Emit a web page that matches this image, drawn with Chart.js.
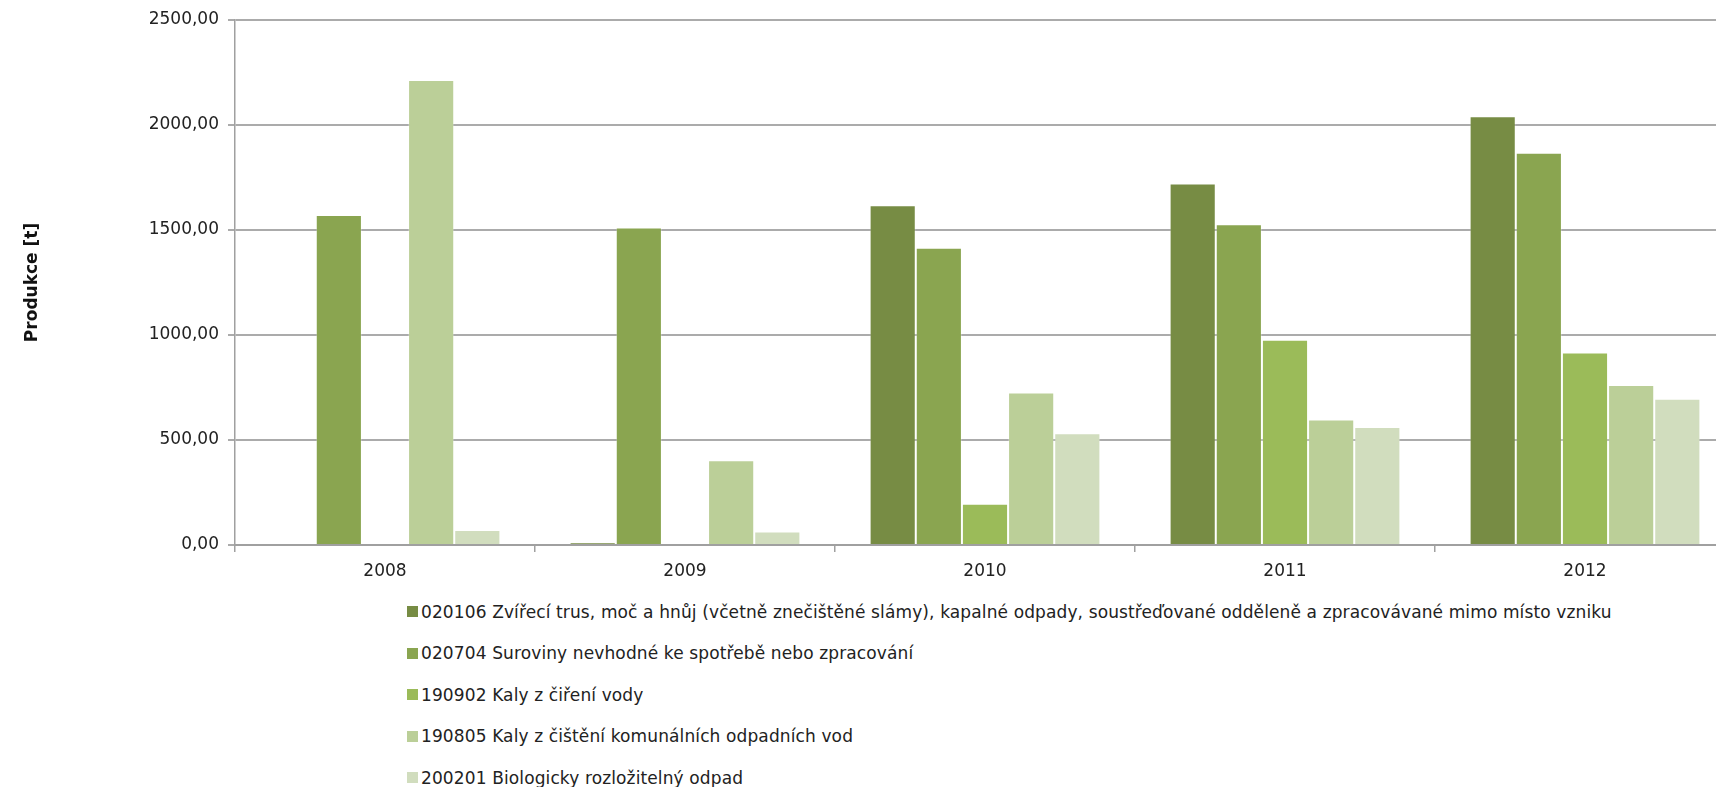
<!DOCTYPE html>
<html><head><meta charset="UTF-8">
<title>Produkce odpadů</title>
<script src="https://cdn.jsdelivr.net/npm/chart.js"></script>
<style>
* { margin: 0; padding: 0; box-sizing: border-box; }
body {
  width: 1716px;
  height: 787px;
  overflow: hidden;
  background: #ffffff;
  position: relative;
  font-family: 'DejaVu Sans', sans-serif;
}
.chart-box {
  position: absolute;
  left: 0;
  top: 0;
  width: 1735px;
  height: 600px;
}
.legend {
  position: absolute;
  left: 407px;
  top: 601px;
}
.legend-item {
  display: flex;
  align-items: center;
  height: 21px;
  margin-bottom: 20.5px;
  font-size: 17px;
  letter-spacing: 0.12px;
  color: #222;
  white-space: nowrap;
}
.legend-box {
  width: 11px;
  height: 11px;
  margin-right: 3px;
  flex: none;
}
</style>
</head>
<body>

<div class="chart-box"><canvas id="chart"></canvas></div>
<div class="legend" id="legend"></div>

<script>
const years = ['2008', '2009', '2010', '2011', '2012'];

const labels = [
  '020106 Zvířecí trus, moč a hnůj (včetně znečištěné slámy), kapalné odpady, soustřeďované odděleně a zpracovávané mimo místo vzniku',
  '020704 Suroviny nevhodné ke spotřebě nebo zpracování',
  '190902 Kaly z čiření vody',
  '190805 Kaly z čištění komunálních odpadních vod',
  '200201 Biologicky rozložitelný odpad'
];

const s020106 = [null, 12, 1618, 1722, 2042];
const s020704 = [1572, 1512, 1416, 1527, 1868];
const s190902 = [null, null, 197, 977, 917];
const s190805 = [2214, 404, 726, 598, 762];
const s200201 = [72, 64, 532, 562, 697];

const colors = ['#778C44', '#8AA550', '#9BBB59', '#BBCF98', '#D1DDBE'];

const yTicks = [0, 500, 1000, 1500, 2000, 2500];

const series = [s020106, s020704, s190902, s190805, s200201];

const datasets = series.map((values, i) => ({
  label: labels[i],
  data: values,
  backgroundColor: colors[i],
  borderColor: 'rgba(255,255,255,0.25)',
  borderWidth: 1,
  categoryPercentage: 5 / 6.5,
  barPercentage: 1.0
}));

const axisFont = { family: 'DejaVu Sans', size: 17 };

new Chart(document.getElementById('chart'), {
  type: 'bar',
  data: { labels: years, datasets: datasets },
  options: {
    responsive: true,
    maintainAspectRatio: false,
    animation: false,
    layout: { padding: { top: 20, right: 0, bottom: 0, left: 0 } },
    plugins: {
      legend: { display: false },
      tooltip: { enabled: false }
    },
    scales: {
      x: {
        grid: {
          display: true,
          drawOnChartArea: false,
          drawTicks: true,
          tickLength: 7,
          color: '#A0A0A0',
          lineWidth: 1.5
        },
        border: { display: true, color: '#A0A0A0', width: 2 },
        ticks: { color: '#222', font: axisFont, padding: 9 },
        afterFit: (scale) => { scale.height = 55; }
      },
      y: {
        min: 0,
        max: 2500,
        afterBuildTicks: (scale) => {
          scale.ticks = yTicks.map(v => ({ value: v }));
        },
        grid: {
          color: '#ABABAB',
          lineWidth: 2,
          drawTicks: true,
          tickLength: 7
        },
        border: { display: true, color: '#A0A0A0', width: 1.5 },
        ticks: {
          color: '#222',
          font: axisFont,
          padding: 9,
          callback: (v) => v.toFixed(2).replace('.', ',')
        },
        title: {
          display: true,
          text: 'Produkce [t]',
          color: '#111',
          font: { family: 'DejaVu Sans', size: 17, weight: 'bold' },
          padding: { top: 22, bottom: 0 }
        },
        afterFit: (scale) => { scale.width = 235; }
      }
    }
  }
});

const legend = document.getElementById('legend');
labels.forEach((text, i) => {
  const item = document.createElement('div');
  item.className = 'legend-item';
  item.innerHTML = `<span class="legend-box" style="background:${colors[i]}"></span><span>${text}</span>`;
  legend.appendChild(item);
});
</script>
</body></html>
